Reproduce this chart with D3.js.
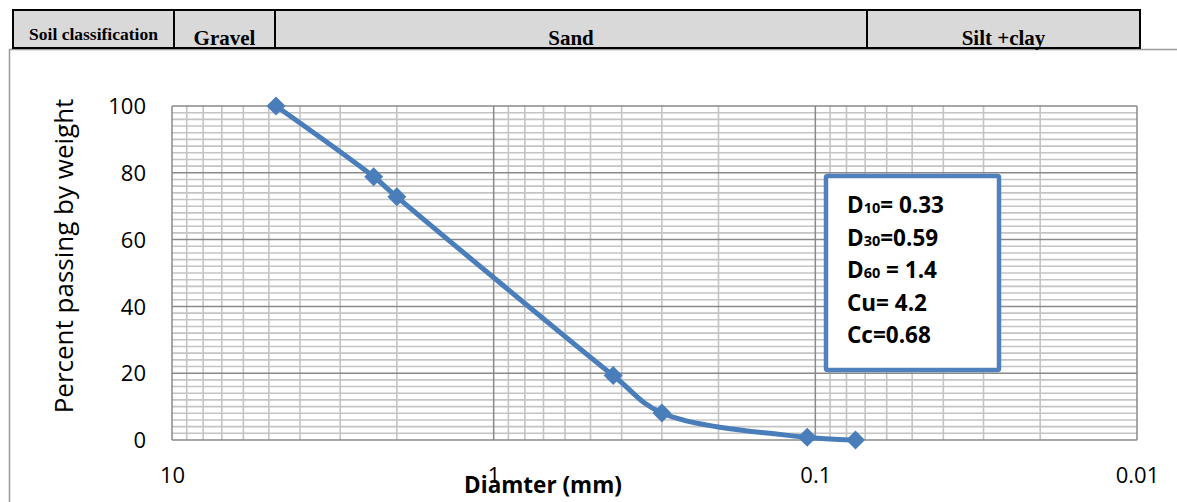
<!DOCTYPE html>
<html>
<head>
<meta charset="utf-8">
<script src="https://cdn.jsdelivr.net/npm/d3@7"></script>
<style>
    html, body { margin: 0; padding: 0; background: #fff; overflow: hidden; }
    svg { display: block; }
</style>
</head>
<body>
<svg></svg>
<script>
const WIDTH = 1177;
const HEIGHT = 502;

// sieve data
const sieveSizes = [4.75, 2.36, 2.0, 0.425, 0.3, 0.106, 0.075];
const percentPassing = [100, 78.8, 72.8, 19.3, 8.1, 0.8, 0];

const xTicks = [10, 1, 0.1, 0.01];
const yTicks = [0, 20, 40, 60, 80, 100];
const yMinorStep = 2;

const classLabels = ['Soil classification', 'Gravel', 'Sand', 'Silt +clay'];
const boxLines = [
    ['D', '10', '= 0.33'],
    ['D', '30', '=0.59'],
    ['D', '60', ' = 1.4'],
    ['Cu= 4.2', '', ''],
    ['Cc=0.68', '', '']
];

const plot = { left: 172, right: 1137, top: 106, bottom: 440 };
const cellEdges = [13, 174, 275, 867, 1140];
const BLUE = '#4a7ebb';

let svg = d3.select('svg')
    .attr('width', WIDTH)
    .attr('height', HEIGHT);

let x = d3.scaleLog().domain([10, 0.01]).range([plot.left, plot.right]);
let y = d3.scaleLinear().domain([0, 100]).range([plot.bottom, plot.top]);

// chart frame (mostly hidden under the table)
svg.append('rect')
    .attr('x', 9.5).attr('y', 49.5)
    .attr('width', WIDTH + 20).attr('height', HEIGHT)
    .attr('fill', 'none')
    .attr('stroke', '#9a9a9a')
    .attr('stroke-width', 1.5);

// gridlines
let xMinor = [];
[1, 0.1, 0.01].forEach(d => {
    for (let k = 2; k <= 9; k++) xMinor.push(k * d);
});
let yMinor = d3.range(0, 101, yMinorStep).filter(v => v % 20 !== 0);

let grid = svg.append('g').classed('grid', true);
grid.selectAll('line.hminor')
    .data(yMinor)
    .enter()
    .append('line')
        .attr('x1', plot.left).attr('x2', plot.right)
        .attr('y1', d => y(d)).attr('y2', d => y(d))
        .attr('stroke', '#c4c4c4')
        .attr('stroke-width', 1.6);
grid.selectAll('line.vminor')
    .data(xMinor)
    .enter()
    .append('line')
        .attr('x1', d => x(d)).attr('x2', d => x(d))
        .attr('y1', plot.top).attr('y2', plot.bottom)
        .attr('stroke', '#c4c4c4')
        .attr('stroke-width', 1.6);
grid.selectAll('line.hmajor')
    .data(yTicks)
    .enter()
    .append('line')
        .attr('x1', plot.left).attr('x2', plot.right)
        .attr('y1', d => y(d)).attr('y2', d => y(d))
        .attr('stroke', '#8a8a8a')
        .attr('stroke-width', 1.5);
grid.selectAll('line.vmajor')
    .data(xTicks)
    .enter()
    .append('line')
        .attr('x1', d => x(d)).attr('x2', d => x(d))
        .attr('y1', plot.top).attr('y2', plot.bottom)
        .attr('stroke', '#8a8a8a')
        .attr('stroke-width', 1.5);

// axes
let yAxis = svg.append('g')
    .attr('transform', `translate(${plot.left},0)`)
    .call(d3.axisLeft(y).tickValues(yTicks).tickSize(0).tickPadding(26));
let xAxis = svg.append('g')
    .attr('transform', `translate(0,${plot.bottom})`)
    .call(d3.axisBottom(x).tickValues(xTicks).tickSize(0).tickPadding(27).tickFormat(d => String(d)));
for (const ax of [xAxis, yAxis]) {
    ax.select('.domain').remove();
    ax.selectAll('text')
        .attr('font-family', '"Open Sans", sans-serif')
        .attr('font-size', 22)
        .attr('fill', '#000');
}
yAxis.selectAll('text').attr('dy', '0.35em');

svg.append('text')
    .attr('transform', 'translate(73,256) rotate(-90)')
    .attr('text-anchor', 'middle')
    .attr('font-family', '"Open Sans", sans-serif')
    .attr('font-size', 26)
    .text('Percent passing by weight');

svg.append('text')
    .attr('x', 543).attr('y', 493)
    .attr('text-anchor', 'middle')
    .attr('font-family', '"Open Sans", sans-serif')
    .attr('font-weight', 'bold')
    .attr('font-size', 22.5)
    .text('Diamter (mm)');

// gradation curve
let points = sieveSizes.map((d, i) => ({ size: d, pct: percentPassing[i] }));
let line = d3.line()
    .x(d => x(d.size))
    .y(d => y(d.pct))
    .curve(d3.curveCatmullRom.alpha(0.5));
svg.append('path')
    .datum(points)
    .attr('d', line)
    .attr('fill', 'none')
    .attr('stroke', BLUE)
    .attr('stroke-width', 5)
    .attr('stroke-linejoin', 'round');
svg.append('g')
    .selectAll('path')
    .data(points)
    .enter()
    .append('path')
        .attr('d', d3.symbol().type(d3.symbolSquare).size(180))
        .attr('transform', d => `translate(${x(d.size)},${y(d.pct)}) rotate(45)`)
        .attr('fill', BLUE);

// info box
let box = svg.append('g');
box.append('rect')
    .attr('x', 826).attr('y', 176)
    .attr('width', 173).attr('height', 194)
    .attr('rx', 1.5)
    .attr('fill', '#fff')
    .attr('stroke', '#4f81bd')
    .attr('stroke-width', 4.5);
let boxText = box.selectAll('text')
    .data(boxLines)
    .enter()
    .append('text')
        .attr('x', 847)
        .attr('y', (d, i) => 213 + i * 32.5)
        .attr('font-family', '"Open Sans", sans-serif')
        .attr('font-weight', 'bold')
        .attr('font-size', 22.5)
        .attr('fill', '#000');
boxText.append('tspan').text(d => d[0]);
boxText.append('tspan').attr('font-size', 14.5).text(d => d[1]);
boxText.append('tspan').text(d => d[2]).style('white-space', 'pre');

// soil classification table
let table = svg.append('g');
table.selectAll('rect')
    .data(classLabels)
    .enter()
    .append('rect')
        .attr('x', (d, i) => cellEdges[i])
        .attr('y', 10)
        .attr('width', (d, i) => cellEdges[i + 1] - cellEdges[i])
        .attr('height', 38)
        .attr('fill', '#d9d9d9')
        .attr('stroke', '#000')
        .attr('stroke-width', 2);
table.selectAll('text')
    .data(classLabels)
    .enter()
    .append('text')
        .attr('x', (d, i) => (cellEdges[i] + cellEdges[i + 1]) / 2)
        .attr('y', (d, i) => i === 0 ? 40 : 45)
        .attr('text-anchor', 'middle')
        .attr('font-family', '"Liberation Serif", "Times New Roman", serif')
        .attr('font-weight', 'bold')
        .attr('font-size', (d, i) => i === 0 ? 17.5 : 21)
        .text(d => d);
</script>
</body>
</html>
